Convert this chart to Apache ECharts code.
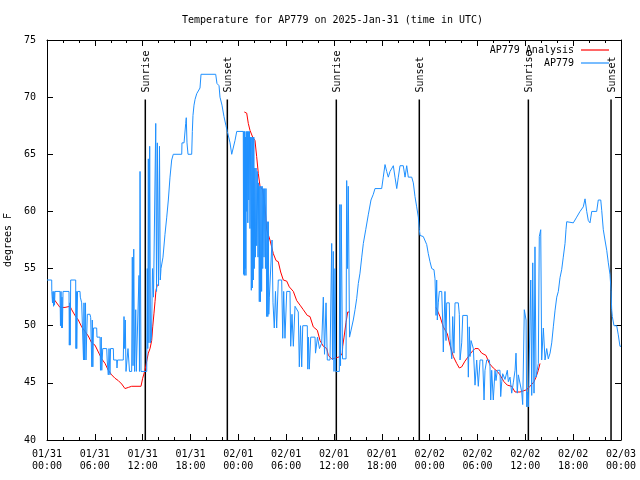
<!DOCTYPE html>
<html><head><meta charset="utf-8">
<script src="https://cdn.jsdelivr.net/npm/echarts/dist/echarts.min.js"></script>
<style>html,body{margin:0;padding:0;background:#fff}#c{width:640px;height:480px}</style>
</head><body><div id="c"></div>
<script>
// hours since 2025-01-31 00:00 UTC
const blueTime = [0,0.59,0.60,0.69,0.75,0.82,0.88,0.94,1.00,1.63,1.69,1.76,1.82,1.88,1.94,2.01,2.76,2.80,2.86,2.91,2.97,3.60,3.63,3.68,3.73,3.83,4.14,4.18,4.35,4.58,4.64,4.70,4.83,4.89,5.06,5.39,5.48,5.62,5.68,5.75,5.83,6.23,6.27,6.65,6.71,6.80,6.87,6.99,7.49,7.55,7.69,7.78,7.90,7.97,8.32,8.36,8.74,8.78,8.84,9.57,9.66,9.75,9.82,9.91,10.10,10.16,10.29,10.35,10.62,10.70,10.79,10.88,10.98,11.13,11.20,11.41,11.54,11.60,11.67,11.79,12.51,12.58,12.64,12.71,12.79,12.88,12.98,13.11,13.23,13.36,13.64,13.74,13.84,13.99,14.11,14.21,14.30,14.55,14.80,15.02,15.22,15.43,15.64,15.84,16.90,16.93,17.19,17.40,17.47,17.56,17.69,18.15,18.23,18.31,18.44,18.57,18.78,19.19,19.32,21.16,21.32,21.58,21.70,21.95,22.20,22.45,22.62,22.96,23.17,23.37,23.58,23.80,24.62,
24.66,24.70,24.75,24.80,24.85,24.90,24.95,25.00,25.05,25.13,25.19,25.25,25.31,25.39,25.46,25.54,25.63,25.69,25.75,25.82,25.88,25.94,26.00,26.07,26.14,26.22,26.30,26.38,26.47,26.54,26.63,26.69,26.77,26.84,26.92,26.99,27.06,27.13,27.22,27.31,27.40,27.47,27.56,27.62,27.70,27.76,27.82,27.89,
28.04,28.23,28.35,28.51,28.66,28.81,29.01,29.44,29.57,29.69,29.85,30.07,30.48,30.57,30.73,30.90,31.11,31.52,31.65,31.80,31.95,32.08,32.65,32.71,32.80,32.90,33.08,33.62,33.68,33.83,33.93,34.03,34.18,34.46,34.66,34.81,35.00,35.16,35.50,35.71,35.81,35.91,36.00,36.13,36.21,36.67,36.73,36.82,36.90,37.07,37.51,37.59,37.69,37.79,37.95,38.13,38.42,38.64,38.85,39.05,39.26,39.48,39.68,39.98,40.30,40.64,40.93,41.14,41.98,42.18,42.40,42.61,42.81,43.03,43.44,43.65,43.87,44.07,44.28,44.69,44.91,45.12,45.32,45.53,45.75,45.95,46.16,46.37,46.58,46.70,
46.79,47.20,47.63,47.83,48.04,48.26,48.54,48.67,48.80,48.88,48.96,49.08,49.21,49.51,49.64,49.71,49.92,50.05,50.14,50.46,50.55,50.77,50.89,51.05,51.18,51.59,51.72,51.81,52.02,52.15,52.72,52.85,52.97,53.06,53.19,53.48,53.69,53.90,54.10,54.32,54.65,54.82,54.94,55.16,55.48,55.57,55.66,55.78,55.98,56.20,56.32,56.49,56.82,56.91,57.04,57.16,57.45,57.74,57.87,58.08,58.29,58.49,58.71,58.83,58.99,59.12,59.55,59.67,59.87,60.09,60.17,60.25,60.38,60.59,60.68,60.80,60.93,61.09,61.21,61.34,61.63,61.75,61.93,62.05,62.26,62.47,62.68,62.88,63.10,63.31,63.51,63.72,63.94,64.14,64.35,64.56,64.76,64.98,65.10,65.19,65.39,66.02,66.23,66.44,66.86,67.27,67.49,67.70,67.90,68.11,68.33,68.95,69.15,69.46,69.58,69.78,69.99,70.21,70.41,70.62,70.75,70.83,70.91,71.12,71.46,71.66,71.87,72.00];
const blueTemp = [54,54,53,52,53,51.7,53,51.8,53,53,50,53,49.8,52.5,49.8,53,53,48.3,52,48.3,54,54,48,53,48,53,53,52.5,52,47,52,47,52,47,51,51,50.7,46.4,50.5,46.4,49.8,49.8,49,49,46.1,49,46.1,48,48,47,45.7,48,45.7,48,48,47,47,46.3,47,47,50.8,48,50.5,46,46,48,48,46,46,56,46.5,56.7,46,51.4,46,46,54.4,46,63.5,46,46,55,48,64.6,48.5,65.7,48.5,49,55,52.5,67.7,53,66,53.5,65.7,54,55,56,58,59.5,61,63,64.5,65,65,66,66,67.7,68.2,66,65,65,67,68.4,69.3,69.8,70.3,70.8,72,72,71.2,71,70,69.3,68.3,67.5,67,66,65,65,66.2,67,67,
54.5,67,54.4,67,55,66.5,54.4,67,60,67,59,67,61,67,58.5,66.5,53.1,66.5,53.3,66.5,54,66.5,55,63.8,56,63.8,57,63.5,56,62.5,52.1,62.2,52.1,62.2,53,62.2,55,62,56,62,55,62,50.8,59.1,50.8,59.1,51,52.5,
52.5,57.5,52,49.8,53,49.8,54,54,48.9,53,48.9,53,53,48.2,51,48.2,51.7,51.2,46.4,50,46.4,50,50,46.2,49,46.2,49,49,47.6,47.6,49,49,48,48.5,52.5,47.5,52,47,47,57.2,47,56.5,46,55,46,46,60.6,46.5,60.6,47.1,47.1,62.7,55,62.2,49,49,50.5,51.4,52.4,53.7,54.6,56,57.2,58.4,59.7,61,61.5,62,62,63,64.1,63.5,63,63.5,64,63,62,63,64,64,63,64,63,63,63,62.5,61.3,60.4,59.5,58.4,
57.9,57.8,57.1,56.3,55.6,55,54.9,54.1,50.9,54,50.5,52,53,53,50.2,47.7,53,48.7,52,52,48.9,47.1,50.8,47.6,52,52,51,47,48.5,50.9,50.9,45.5,49.9,47.3,48.7,48,44.8,47,44.7,47,47,43.5,46.1,47,47,46.4,43.5,46.1,43.5,46.1,45.2,46.1,46.1,43.8,45.1,45.8,45.3,46.1,45.1,45.5,44.1,45,46.1,47.6,44.1,45.7,44.2,43.1,51.4,50.5,42.9,44.2,42.9,42.9,54,43.9,55.5,44.1,56.9,45.5,46.7,57.8,58.4,47,49.8,47,48,47.1,47.6,48.5,49.9,51.3,52.5,53,54.2,54.9,56,57.2,58.4,59.1,59,59,59.1,59.5,60,60.4,61.1,60,59.2,59,60,60,61,61,60.1,58.4,57.5,56.6,55.5,54.5,53.1,51.4,50.8,50,50,49.2,48.2,48.2];

const redTime = [0.71,1.00,1.42,1.63,2.26,2.89,3.10,3.51,3.93,4.35,4.77,5.18,5.60,6.02,6.44,6.86,7.28,7.69,8.11,8.53,8.94,9.37,9.78,10.20,10.62,11.79,12.00,12.29,12.51,12.71,12.92,13.13,13.26,13.42,13.55,13.67,13.84,
19.0,
24.75,25.05,25.25,25.46,25.80,26.09,26.30,26.51,26.72,27.05,27.35,27.56,27.97,28.39,28.73,29.01,29.31,29.64,30.07,30.39,30.90,31.32,31.74,32.15,32.65,32.99,33.40,33.91,34.25,34.66,35.09,35.29,35.71,36.34,36.75,37.04,37.09,37.26,37.51,37.72,37.92,
43.0,
48.80,49.30,49.71,50.21,50.55,50.97,51.39,51.72,52.02,52.43,52.85,53.27,53.69,54.10,54.53,55.07,55.48,55.98,56.49,56.82,57.32,57.74,58.29,58.71,59.33,59.75,60.17,60.59,61.09,61.34,61.63,61.84];
const redTemp = [52.5,52.2,51.8,51.6,51.6,51.7,51.4,50.9,50.5,49.9,49.5,49.1,48.5,48.3,47.7,47.1,46.7,46.1,45.7,45.4,45.2,44.9,44.5,44.6,44.7,44.7,45.4,46.1,46.9,47.6,48,48.7,49.9,51.1,52.1,53.1,53.6,
null,
68.7,68.6,67.7,67.1,66.5,66.2,64.8,63.3,62.2,61.9,60.4,58.4,57.5,56.3,55.7,55.6,54.7,54,53.9,53.4,53,52.2,51.8,51.4,50.9,50.8,49.9,49.6,48.7,48.2,48,47.4,47.1,47.2,47.3,47.6,48.2,49,50.3,51.2,51.2,
null,
51.6,50.8,49.9,49.3,48.3,47.3,46.7,46.3,46.4,46.9,47.3,47.7,48,48,47.6,47.4,46.7,46.3,46,45.7,45.1,44.8,44.7,44.2,44.2,44.3,44.4,44.7,45.1,45.5,46.1,46.7];

const sunHours = [12.33, 22.62, 36.29, 46.70, 60.38, 70.75];
const sunNames = ['Sunrise','Sunset','Sunrise','Sunset','Sunrise','Sunset'];
const xTickLabels = ['01/31\n00:00','01/31\n06:00','01/31\n12:00','01/31\n18:00','02/01\n00:00','02/01\n06:00','02/01\n12:00','02/01\n18:00','02/02\n00:00','02/02\n06:00','02/02\n12:00','02/02\n18:00','02/03\n00:00'];
const titleText = 'Temperature for AP779 on 2025-Jan-31 (time in UTC)';
const seriesNames = ['AP779 Analysis','AP779'];

const FONT = 'DejaVu Sans Mono';
const blueData = blueTime.map((t,i)=>[t, blueTemp[i]]);
const redData = redTime.map((t,i)=>[t, redTemp[i]]);
const Y_MIN = 40, SUN_TOP = 69.8, SUN_LABEL = 70.4;

const axisLineStyle = {show:true, onZero:false, lineStyle:{color:'#000', width:1}};
function xAxisCfg(pos, showLabel){
  return {type:'value', min:0, max:72, interval:6, position:pos,
    axisLine:axisLineStyle,
    axisTick:{show:true, inside:true, length:6, lineStyle:{color:'#000'}},
    minorTick:{show:true, splitNumber:3, length:3, lineStyle:{color:'#000'}},
    splitLine:{show:false}, minorSplitLine:{show:false},
    axisLabel:{show:showLabel, color:'#000', fontFamily:FONT, fontSize:10, lineHeight:12, margin:8,
      formatter:(v)=>xTickLabels[Math.round(v/6)]}};
}
function yAxisCfg(pos, showLabel){
  const c = {type:'value', min:40, max:75, interval:5, position:pos,
    axisLine:axisLineStyle,
    axisTick:{show:true, inside:true, length:6, lineStyle:{color:'#000'}},
    splitLine:{show:false},
    axisLabel:{show:showLabel, color:'#000', fontFamily:FONT, fontSize:10, margin:11}};
  if (showLabel){
    c.name='degrees F'; c.nameLocation='middle'; c.nameGap=32; c.nameRotate=90;
    c.nameTextStyle={color:'#000', fontFamily:FONT, fontSize:10};
  }
  return c;
}

const chart = echarts.init(document.getElementById('c'), null, {renderer:'canvas'});
chart.setOption({
  animation:false,
  backgroundColor:'#fff',
  title:{text:titleText, left:182, top:15, padding:0,
    textStyle:{fontFamily:FONT, fontSize:10, fontWeight:'normal', color:'#000'}},
  legend:{data:seriesNames, orient:'vertical', align:'right', right:31, top:44, padding:0,
    icon:'rect', itemWidth:28, itemHeight:1.2, itemGap:1,
    textStyle:{fontFamily:FONT, fontSize:10, lineHeight:12, color:'#000', padding:[0,2,0,0]}},
  grid:{left:47, right:19, top:40, bottom:40, containLabel:false, outerBoundsMode:'none'},
  xAxis:[xAxisCfg('bottom', true), xAxisCfg('top', false)],
  yAxis:[yAxisCfg('left', true), yAxisCfg('right', false)],
  series:[
    {name:seriesNames[0], type:'line', data:redData, showSymbol:false, symbol:'none', connectNulls:false,
      lineStyle:{color:'#ff0000', width:1}, itemStyle:{color:'#ff0000'}},
    {name:seriesNames[1], type:'line', data:blueData, showSymbol:false, symbol:'none',
      lineStyle:{color:'#1e90ff', width:1}, itemStyle:{color:'#1e90ff'}},
    {name:'sun', type:'custom', data:sunHours.map(h=>[h, Y_MIN]), encode:{x:0, y:1}, silent:true, clip:false,
      renderItem:(params, api)=>{
        const t = api.value(0);
        const p0 = api.coord([t, Y_MIN]);
        const p1 = api.coord([t, SUN_TOP]);
        const pl = api.coord([t, SUN_LABEL]);
        return {type:'group', children:[
          {type:'line', shape:{x1:p0[0], y1:p0[1], x2:p1[0], y2:p1[1]}, style:{stroke:'#000', lineWidth:1.5}},
          {type:'text', x:pl[0]+1, y:pl[1], rotation:Math.PI/2,
            style:{text:sunNames[params.dataIndex], fill:'#000', font:'10px "'+FONT+'"', align:'left', verticalAlign:'middle'}}
        ]};
      }}
  ]
});
</script></body></html>
